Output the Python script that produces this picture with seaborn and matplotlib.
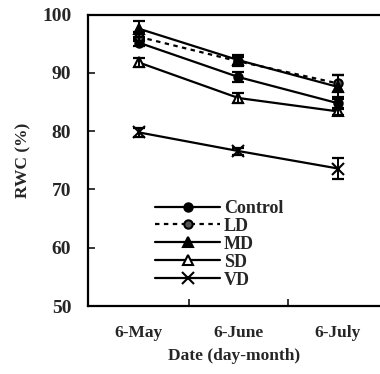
import matplotlib
matplotlib.use("Agg")
import matplotlib.pyplot as plt
import seaborn as sns
import pandas as pd
import numpy as np
from matplotlib.ticker import FixedLocator

dates = ["6-May", "6-June", "6-July"]
control = [95.2, 89.3, 84.8]
ld = [96.2, 92.0, 88.2]
md = [97.6, 92.2, 87.6]
sd = [91.8, 85.7, 83.4]
vd = [79.8, 76.6, 73.6]
control_err = [0.6, 0.8, 1.0]
ld_err = [0.8, 0.8, 1.5]
md_err = [1.4, 0.8, 2.0]
sd_err = [0.8, 0.8, 0.6]
vd_err = [0.8, 0.6, 1.8]
series_names = ["Control", "LD", "MD", "SD", "VD"]

sns.set_theme(style="ticks")
plt.rcParams["font.family"] = ["Liberation Serif", "DejaVu Serif"]
plt.rcParams["font.weight"] = "bold"

series = [control, ld, md, sd, vd]
errs = [control_err, ld_err, md_err, sd_err, vd_err]
rows = []
for name, vals in zip(series_names, series):
    for d, v in zip(dates, vals):
        rows.append({"Date": d, "RWC": v, "Treatment": name})
df = pd.DataFrame(rows)

fig = plt.figure(figsize=(3.8, 3.74), dpi=100)
ax = fig.add_axes([0.2316, 0.1818, 0.768, 0.7789])

styles = {
    "Control": dict(marker="o", ls="-", mfc="black", ms=6),
    "LD": dict(marker="o", ls=(0, (2, 2)), mfc="#555555", ms=6),
    "MD": dict(marker="^", ls="-", mfc="black", ms=7),
    "SD": dict(marker="^", ls="-", mfc="white", ms=7),
    "VD": dict(marker="x", ls="-", mfc="black", ms=8),
}

for name, vals, e in zip(series_names, series, errs):
    st = styles[name]
    sub = df[df["Treatment"] == name]
    sns.lineplot(data=sub, x="Date", y="RWC", ax=ax, color="black",
                 linestyle=st["ls"], marker=st["marker"], markersize=st["ms"],
                 markerfacecolor=st["mfc"], markeredgecolor="black",
                 markeredgewidth=1.5, lw=1.6, label=name, sort=False)
    ax.errorbar(np.arange(len(dates)), vals, yerr=e, fmt="none",
                ecolor="black", elinewidth=1.4, capsize=4, capthick=1.6)

ax.set_xlim(-0.51, 2.42)
ax.set_ylim(50, 100)
ax.set_yticks([50, 60, 70, 80, 90, 100])
ax.set_xticks(range(len(dates)))
ax.set_xticklabels(dates, fontsize=12.5, fontweight="bold")
ax.xaxis.set_minor_locator(FixedLocator([0.5, 1.5]))
ax.tick_params(axis="x", which="major", length=0, pad=14)
ax.tick_params(axis="x", which="minor", direction="in", length=5, width=1.3)
ax.tick_params(axis="y", direction="in", length=5, width=1.3, labelsize=14, pad=12)
for lab in ax.get_yticklabels():
    lab.set_fontweight("bold")

ax.set_xlabel("Date (day-month)", fontsize=12.5, fontweight="bold", labelpad=5)
ax.set_ylabel("RWC (%)", fontsize=12.5, fontweight="bold", labelpad=8)

for s in ["left", "bottom", "top"]:
    ax.spines[s].set_linewidth(1.6)
    ax.spines[s].set_color("black")
ax.spines["right"].set_visible(False)

leg = ax.legend(loc="upper left", bbox_to_anchor=(0.205, 0.389), frameon=False,
                handlelength=3.6, fontsize=13, labelspacing=0.05,
                handletextpad=0.2, borderaxespad=0)
for t in leg.get_texts():
    t.set_fontweight("bold")

fig.savefig("out.png", dpi=100)
